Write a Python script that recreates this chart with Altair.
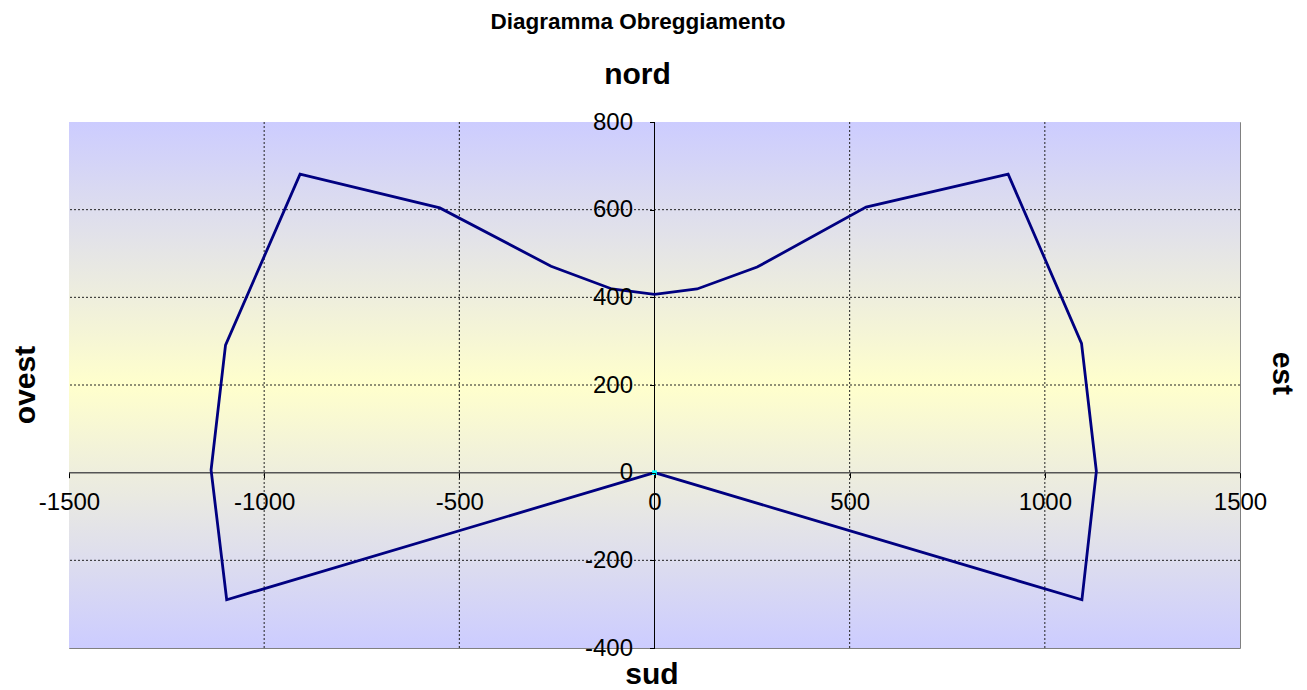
import altair as alt
import pandas as pd

# ---- data ----
x_vals = [0, 1095, 1132, 1094, 906, 542, 263, 109, 0, -109, -265, -550, -908, -1099, -1136, -1096, 0]
y_vals = [0, -290, 3, 295, 681, 606, 469, 419, 407, 419, 471, 604, 681, 291, 6, -290, 0]
x_ticks = [-1500, -1000, -500, 0, 500, 1000, 1500]
y_ticks = [-400, -200, 0, 200, 400, 600, 800]
origin_x = [0]
origin_y = [0]

W, H = 1171, 526
FONT = "Liberation Sans"

xs = alt.Scale(domain=[-1500, 1500], nice=False, zero=False)
ys = alt.Scale(domain=[-400, 800], nice=False, zero=False)

xaxis = alt.Axis(values=x_ticks, title=None, grid=False, domain=False, ticks=True,
                 tickSize=5, tickColor="black", labelFont=FONT, labelFontSize=24,
                 labelColor="black", labelPadding=13, offset=-175.3,
                 labelFlush=False, labelOverlap=False, zindex=2,
                 labelExpr="'' + datum.value")
yaxis = alt.Axis(values=y_ticks, title=None, grid=False, domain=False, ticks=True,
                 tickSize=5, tickColor="black", labelFont=FONT, labelFontSize=24,
                 labelColor="black", labelPadding=17, offset=-585.5,
                 labelFlush=False, labelOverlap=False, zindex=2,
                 labelExpr="'' + datum.value")

line_df = pd.DataFrame({"x": x_vals, "y": y_vals, "i": list(range(len(x_vals)))})
vgrid_df = pd.DataFrame({"v": [t for t in x_ticks if t not in (0, x_ticks[0], x_ticks[-1])]})
hgrid_df = pd.DataFrame({"v": [t for t in y_ticks if t not in (0, y_ticks[0], y_ticks[-1])]})
zero_df = pd.DataFrame({"x": [0], "y": [0]})
origin_df = pd.DataFrame({"x": origin_x, "y": origin_y})

gradient = alt.LinearGradient(
    gradient="linear",
    stops=[alt.GradientStop(offset=0, color="#CCCCFF"),
           alt.GradientStop(offset=0.5, color="#FFFFCC"),
           alt.GradientStop(offset=1, color="#CCCCFF")],
    x1=0, x2=0, y1=0, y2=1)

bg = alt.Chart(alt.Data(values=[{}])).mark_rect(color=gradient).encode(
    x=alt.value(0), x2=alt.value(W), y=alt.value(0), y2=alt.value(H))

vgrid = alt.Chart(vgrid_df).mark_rule(color="#222222", strokeDash=[2, 2], strokeWidth=1).encode(
    x=alt.X("v:Q", scale=xs, axis=xaxis))
hgrid = alt.Chart(hgrid_df).mark_rule(color="#222222", strokeDash=[2, 2], strokeWidth=1).encode(
    y=alt.Y("v:Q", scale=ys, axis=yaxis))

yline = alt.Chart(zero_df).mark_rule(color="black", strokeWidth=1).encode(
    x=alt.X("x:Q", scale=xs, axis=xaxis))
xline = alt.Chart(zero_df).mark_rule(color="#555555", strokeWidth=1.5).encode(
    y=alt.Y("y:Q", scale=ys, axis=yaxis))

line = alt.Chart(line_df).mark_line(color="#000080", strokeWidth=2.8).encode(
    x=alt.X("x:Q", scale=xs, axis=xaxis),
    y=alt.Y("y:Q", scale=ys, axis=yaxis),
    order="i:Q")

origin = alt.Chart(origin_df).mark_point(filled=True, color="#00FFFF", size=22,
                                         shape="square", opacity=1).encode(
    x=alt.X("x:Q", scale=xs, axis=xaxis),
    y=alt.Y("y:Q", scale=ys, axis=yaxis))


def label(txt, x, y, angle=0, size=30):
    return alt.Chart(alt.Data(values=[{}])).mark_text(
        text=txt, font=FONT, fontWeight="bold", fontSize=size, color="black",
        angle=angle, baseline="alphabetic", align="center").encode(
        x=alt.value(x), y=alt.value(y))


title = label("Diagramma Obreggiamento", 569, -93, 0, 22.5)
nord = label("nord", 568.5, -38)
sud = label("sud", 583, 562)
ovest = label("ovest", -34.5, 263, 270)
est = label("est", 1203.7, 251.3, 90)

chart = alt.layer(bg, vgrid, hgrid, yline, xline, line, origin,
                  title, nord, sud, ovest, est).properties(
    width=W, height=H,
    autosize=alt.AutoSizeParams(type="none"),
    padding={"left": 61, "top": 114, "right": 59, "bottom": 42},
).configure_view(stroke="#808080", strokeWidth=1)

chart.save("out.html", embed_options={"renderer": "svg", "actions": False})
